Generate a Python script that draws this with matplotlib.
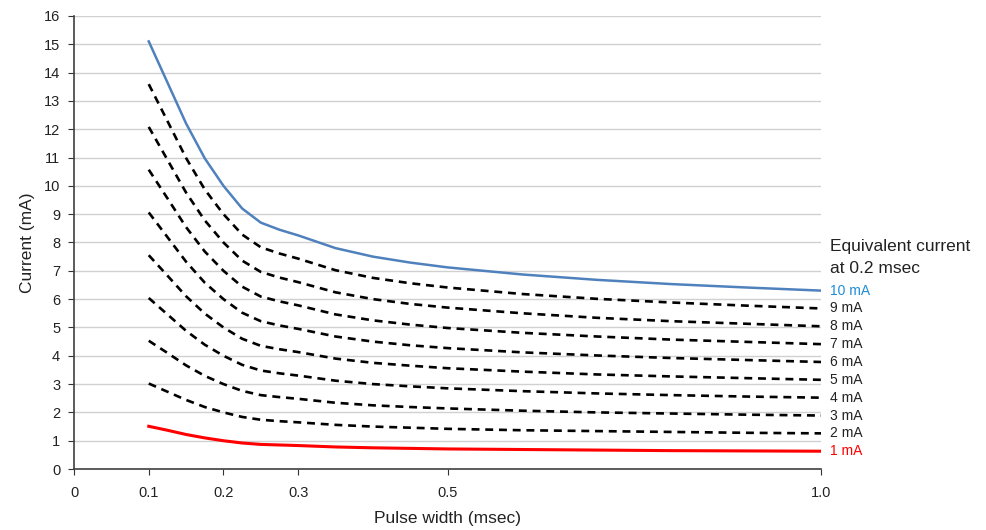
import matplotlib.pyplot as plt

plt.rcParams['font.family'] = ['Liberation Sans', 'DejaVu Sans']

# pulse width (msec)
pulse_width = [0.1, 0.125, 0.15, 0.175, 0.2, 0.225, 0.25, 0.275, 0.3, 0.35,
               0.4, 0.45, 0.5, 0.6, 0.7, 0.8, 0.9, 1.0]

# current (mA) for each equivalent current at 0.2 msec
current_10 = [15.1, 13.65, 12.2, 10.97, 10.0, 9.2, 8.7, 8.45, 8.25, 7.8, 7.5, 7.29, 7.12, 6.87, 6.68, 6.53, 6.41, 6.3]
current_9 = [13.59, 12.29, 10.98, 9.87, 9.0, 8.28, 7.83, 7.61, 7.43, 7.02, 6.75, 6.56, 6.41, 6.18, 6.01, 5.88, 5.77, 5.67]
current_8 = [12.08, 10.92, 9.76, 8.78, 8.0, 7.36, 6.96, 6.76, 6.6, 6.24, 6.0, 5.83, 5.7, 5.5, 5.34, 5.22, 5.13, 5.04]
current_7 = [10.57, 9.56, 8.54, 7.68, 7.0, 6.44, 6.09, 5.92, 5.78, 5.46, 5.25, 5.1, 4.98, 4.81, 4.68, 4.57, 4.49, 4.41]
current_6 = [9.06, 8.19, 7.32, 6.58, 6.0, 5.52, 5.22, 5.07, 4.95, 4.68, 4.5, 4.37, 4.27, 4.12, 4.01, 3.92, 3.85, 3.78]
current_5 = [7.55, 6.83, 6.1, 5.49, 5.0, 4.6, 4.35, 4.23, 4.13, 3.9, 3.75, 3.65, 3.56, 3.44, 3.34, 3.27, 3.21, 3.15]
current_4 = [6.04, 5.46, 4.88, 4.39, 4.0, 3.68, 3.48, 3.38, 3.3, 3.12, 3.0, 2.92, 2.85, 2.75, 2.67, 2.61, 2.56, 2.52]
current_3 = [4.53, 4.1, 3.66, 3.29, 3.0, 2.76, 2.61, 2.54, 2.48, 2.34, 2.25, 2.19, 2.14, 2.06, 2.0, 1.96, 1.92, 1.89]
current_2 = [3.02, 2.73, 2.44, 2.19, 2.0, 1.84, 1.74, 1.69, 1.65, 1.56, 1.5, 1.46, 1.42, 1.37, 1.34, 1.31, 1.28, 1.26]
current_1 = [1.51, 1.37, 1.22, 1.1, 1.0, 0.92, 0.87, 0.85, 0.83, 0.78, 0.75, 0.73, 0.71, 0.69, 0.67, 0.65, 0.64, 0.63]

dashed_series = [current_9, current_8, current_7, current_6, current_5,
                 current_4, current_3, current_2]
dashed_labels = ['9 mA', '8 mA', '7 mA', '6 mA', '5 mA', '4 mA', '3 mA', '2 mA']

x_ticks = [0, 0.1, 0.2, 0.3, 0.5, 1.0]
x_tick_labels = ['0', '0.1', '0.2', '0.3', '0.5', '1.0']

BLUE = '#4F81BD'
BLUE_TEXT = '#1F8DD6'
RED = '#FF0000'

fig = plt.figure(figsize=(9.87, 5.30), dpi=100)
ax = fig.add_axes([0.075, 0.115, 0.757, 0.855])

ax.plot(pulse_width, current_10, color=BLUE, lw=1.8, zorder=3,
        solid_joinstyle='round')
for ys in dashed_series:
    ax.plot(pulse_width, ys, color='black', lw=1.9, dashes=(3, 2.2), zorder=3,
            dash_joinstyle='round')
ax.plot(pulse_width, current_1, color=RED, lw=2.2, zorder=3,
        solid_joinstyle='round')

# right-hand labels
def end_label(ys, text, color):
    ax.annotate(text, xy=(pulse_width[-1], ys[-1]), xytext=(6, 0),
                textcoords='offset points', va='center', ha='left',
                fontsize=10, color=color, annotation_clip=False)

end_label(current_10, '10 mA', BLUE_TEXT)
for ys, lab in zip(dashed_series, dashed_labels):
    end_label(ys, lab, '#222222')
end_label(current_1, '1 mA', RED)

ax.annotate('Equivalent current\nat 0.2 msec', xy=(1.0, 7.48), xytext=(6, 0),
            textcoords='offset points', va='center', ha='left', fontsize=12.5,
            color='#222222', linespacing=1.55, annotation_clip=False)

ax.set_xlim(0, 1.0)
ax.set_ylim(0, 16)
ax.set_xticks(x_ticks)
ax.set_xticklabels(x_tick_labels)
ax.set_yticks(range(0, 17))
ax.tick_params(axis='both', labelsize=10.5, colors='#333333', labelcolor='#222222',
               length=4, direction='out', pad=6)
ax.tick_params(axis='x', pad=8)
ax.yaxis.grid(True, color='#D0D0D0', lw=1)
ax.set_axisbelow(True)
for side in ['top', 'right']:
    ax.spines[side].set_visible(False)
for side in ['left', 'bottom']:
    ax.spines[side].set_color('#404040')
    ax.spines[side].set_linewidth(1.2)

ax.set_xlabel('Pulse width (msec)', fontsize=12.5, color='#222222', labelpad=8)
ax.set_ylabel('Current (mA)', fontsize=12.5, color='#222222', labelpad=6)

fig.savefig('out.png', dpi=100)
